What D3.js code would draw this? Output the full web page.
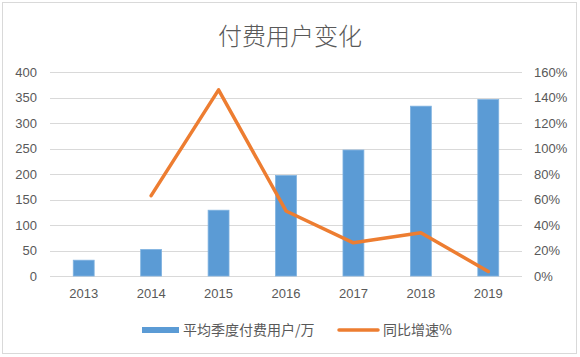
<!DOCTYPE html>
<html><head><meta charset="utf-8">
<script src="https://cdn.jsdelivr.net/npm/d3@7"></script>
<style>html,body{margin:0;padding:0;background:#fff;}svg{display:block;}</style>
</head><body>
<svg id="c" width="580" height="357"></svg>
<script>
const title = "付费用户变化";
const categories = ["2013","2014","2015","2016","2017","2018","2019"];
const users = [31, 52, 129, 197, 247, 333, 346];
const growth = [null, 63, 146, 51, 26, 34, 3.5];
const leftTicks = [0,50,100,150,200,250,300,350,400];
const rightTicks = [0,20,40,60,80,100,120,140,160];
const seriesNames = ["平均季度付费用户/万", "同比增速%"];

const svg = d3.select("#c");
const font = "'Liberation Sans', 'Noto Sans CJK SC', sans-serif";
const txt = "#595959";
const m = {left:50, right:58, top:72, bottom:81};
const W = 580, H = 357;
const x0 = m.left, x1 = W - m.right, yTop = m.top, yBot = H - m.bottom;

svg.append("rect").attr("x",2.5).attr("y",2.5).attr("width",574).attr("height",351)
  .attr("fill","#fff").attr("stroke","#d9d9d9").attr("stroke-width",1);

svg.append("text").attr("x",290).attr("y",45).attr("text-anchor","middle")
  .attr("font-family","'Noto Sans CJK SC', sans-serif").attr("font-size",24).attr("font-weight",300)
  .attr("fill",txt).text(title);

const x = d3.scaleBand().domain(categories).range([x0,x1]).paddingInner(0.69).paddingOuter(0.345);
const yL = d3.scaleLinear().domain([0,400]).range([yBot,yTop]);
const yR = d3.scaleLinear().domain([0,160]).range([yBot,yTop]);

// gridlines
svg.append("g").selectAll("line").data(leftTicks).join("line")
  .attr("x1",x0).attr("x2",x1)
  .attr("y1",d=>Math.round(yL(d))+0.5).attr("y2",d=>Math.round(yL(d))+0.5)
  .attr("stroke","#d9d9d9").attr("stroke-width",1);

// left axis
const la = svg.append("g").attr("transform",`translate(${x0},0)`)
  .call(d3.axisLeft(yL).tickValues(leftTicks).tickSize(0).tickPadding(13));
la.select(".domain").remove();
la.selectAll("text").attr("font-family",font).attr("font-size",13).attr("fill",txt);

// right axis
const ra = svg.append("g").attr("transform",`translate(${x1},0)`)
  .call(d3.axisRight(yR).tickValues(rightTicks).tickSize(0).tickPadding(12).tickFormat(d=>d+"%"));
ra.select(".domain").remove();
ra.selectAll("text").attr("font-family",font).attr("font-size",13).attr("fill",txt);

// x axis
const xa = svg.append("g").attr("transform",`translate(0,${yBot})`)
  .call(d3.axisBottom(x).tickSize(0).tickPadding(13));
xa.select(".domain").remove();
xa.selectAll("text").attr("font-family",font).attr("font-size",13).attr("fill",txt);

// bars
svg.append("g").selectAll("rect").data(users).join("rect")
  .attr("x",(d,i)=>x(categories[i])).attr("width",x.bandwidth())
  .attr("y",d=>yL(d)).attr("height",d=>yBot-yL(d))
  .attr("fill","#5B9BD5").attr("stroke","#7fb2e0").attr("stroke-width",0.8);

// line
const pts = growth.map((g,i)=>({c:categories[i], g})).filter(d=>d.g!==null);
const line = d3.line().x(d=>x(d.c)+x.bandwidth()/2).y(d=>yR(d.g));
svg.append("path").datum(pts).attr("d",line).attr("fill","none")
  .attr("stroke","#ED7D31").attr("stroke-width",3.5).attr("stroke-linejoin","round").attr("stroke-linecap","round");

// legend
const lg = svg.append("g");
lg.append("rect").attr("x",142).attr("y",327).attr("width",37).attr("height",6).attr("fill","#5B9BD5");
lg.append("text").attr("x",183).attr("y",335).attr("font-family","'Noto Sans CJK SC', sans-serif")
  .attr("font-size",14).attr("fill",txt).text(seriesNames[0]);
lg.append("line").attr("x1",339).attr("x2",378).attr("y1",330).attr("y2",330)
  .attr("stroke","#ED7D31").attr("stroke-width",3.5).attr("stroke-linecap","round");
lg.append("text").attr("x",383).attr("y",335).attr("font-family","'Noto Sans CJK SC', sans-serif")
  .attr("font-size",14).attr("fill",txt).text(seriesNames[1]);
</script>
</body></html>
